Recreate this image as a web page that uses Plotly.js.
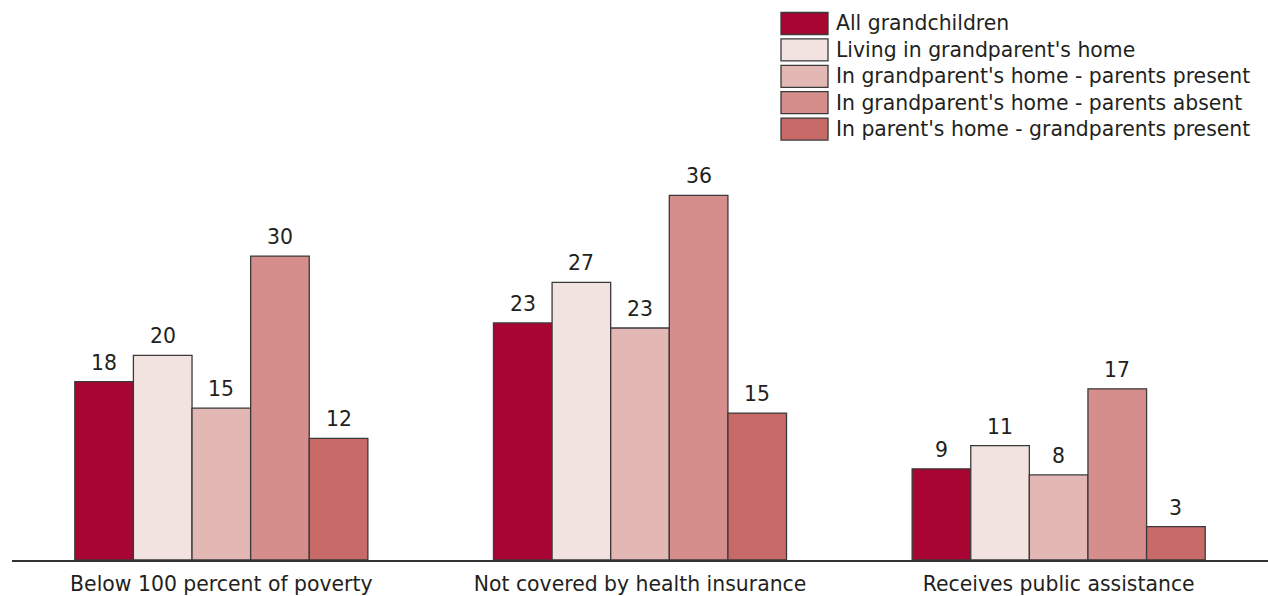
<!DOCTYPE html>
<html>
<head>
<meta charset="utf-8">
<script src="https://cdn.plot.ly/plotly-3.0.1.min.js"></script>
<style>
  html, body { margin: 0; padding: 0; background: #ffffff; }
  #chart { width: 1268px; height: 596px; }
</style>
</head>
<body>
<div id="chart"></div>
<script>
// Categories (x axis)
const categories = [
  "Below 100 percent of poverty",
  "Not covered by health insurance",
  "Receives public assistance"
];

// Series names and colours
const seriesNames = [
  "All grandchildren",
  "Living in grandparent's home",
  "In grandparent's home - parents present",
  "In grandparent's home - parents absent",
  "In parent's home - grandparents present"
];
const seriesColors = ["#a80532", "#f3e3e0", "#e3b7b3", "#d68e8c", "#c76a68"];

// Values (percent)
const allGrandchildren   = [17.6, 23.4, 9.0];
const livingInGpHome     = [20.2, 27.4, 11.3];
const gpHomeParentsPres  = [15.0, 22.9, 8.4];
const gpHomeParentsAbs   = [30.0, 36.0, 16.9];
const parentHomeGpPres   = [12.0, 14.5, 3.3];

// Printed value labels
const labelsAll      = ["18", "23", "9"];
const labelsLiving   = ["20", "27", "11"];
const labelsPresent  = ["15", "23", "8"];
const labelsAbsent   = ["30", "36", "17"];
const labelsParent   = ["12", "15", "3"];

const seriesValues = [allGrandchildren, livingInGpHome, gpHomeParentsPres, gpHomeParentsAbs, parentHomeGpPres];
const seriesLabels = [labelsAll, labelsLiving, labelsPresent, labelsAbsent, labelsParent];

const FONT = "DejaVu Sans, Verdana, sans-serif";
const TXT = "#231f20";
const FS = 20.4;
const BARGAP = 0.30;

const traces = seriesNames.map((name, i) => ({
  type: "bar",
  name: name,
  x: categories,
  y: seriesValues[i],
  marker: { color: seriesColors[i], line: { color: "#3a3a3a", width: 1.3 } },
  hoverinfo: "x+y+name"
}));

// Plot area geometry (pixels) used to place the custom legend
const W = 1268, H = 596;
const M = { l: 12, r: 0, t: 160, b: 36 };
const PW = W - M.l - M.r, PH = H - M.t - M.b;
const px2x = px => (px - M.l) / PW;
const py2y = py => (H - M.b - py) / PH;

const shapes = [];
const annotations = [];

// Value labels above bars (placed on the category axis scale)
const nS = seriesNames.length;
const barW = (1 - BARGAP) / nS;
seriesValues.forEach((vals, i) => {
  vals.forEach((v, j) => {
    annotations.push({
      xref: "x", yref: "y",
      x: j - (1 - BARGAP) / 2 + barW * (i + 0.5),
      y: v, yanchor: "bottom", xanchor: "center", yshift: 5,
      showarrow: false, text: seriesLabels[i][j],
      font: { family: FONT, size: FS, color: TXT }
    });
  });
});

// Custom legend with large swatches
seriesNames.forEach((name, i) => {
  const top = 12.5 + i * 26.4;
  shapes.push({
    type: "rect", xref: "paper", yref: "paper",
    x0: px2x(781), x1: px2x(828), y0: py2y(top), y1: py2y(top + 22),
    fillcolor: seriesColors[i], line: { color: "#3a3a3a", width: 1.3 }
  });
  annotations.push({
    xref: "paper", yref: "paper", x: px2x(834), y: py2y(top + 11),
    xanchor: "left", yanchor: "middle", showarrow: false,
    text: name, font: { family: FONT, size: FS, color: TXT }
  });
});

const layout = {
  width: W, height: H,
  margin: M,
  paper_bgcolor: "#ffffff",
  plot_bgcolor: "#ffffff",
  showlegend: false,
  barmode: "group",
  bargap: BARGAP,
  bargroupgap: 0,
  font: { family: FONT, size: FS, color: TXT },
  xaxis: {
    showline: true, linecolor: "#333333", linewidth: 1.5,
    ticks: "", showgrid: false, zeroline: false,
    ticklabelstandoff: 5,
    tickfont: { family: FONT, size: FS, color: TXT },
    fixedrange: true
  },
  yaxis: {
    range: [0, 400 / 10.13],
    visible: false, showgrid: false, zeroline: false,
    fixedrange: true
  },
  shapes: shapes,
  annotations: annotations
};

Plotly.newPlot("chart", traces, layout, { displayModeBar: false, staticPlot: true });
</script>
</body>
</html>
